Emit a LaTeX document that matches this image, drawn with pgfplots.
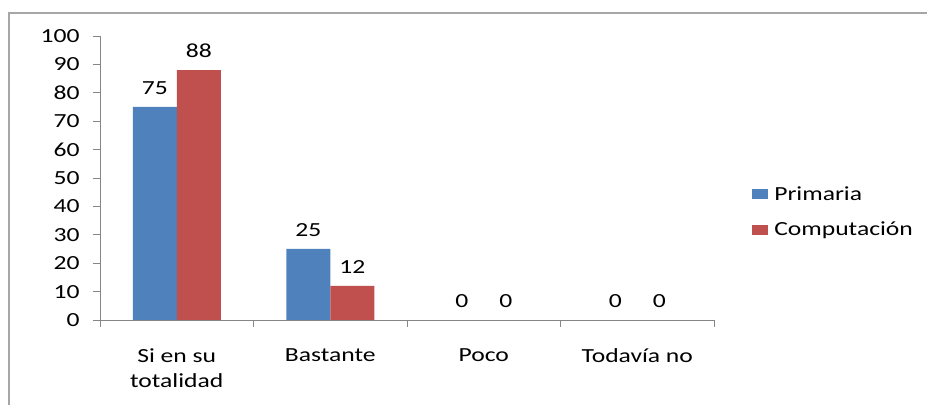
\documentclass[border=0pt]{standalone}
\usepackage{fontspec}
\setmainfont{Carlito}[FakeStretch=1.28]
\usepackage{pgfplots}
\pgfplotsset{compat=1.18}
\definecolor{pblue}{HTML}{4F81BD}
\definecolor{cred}{HTML}{C0504D}
\definecolor{axgray}{HTML}{868686}
\newcommand{\cf}{\fontsize{20bp}{25bp}\selectfont}
\begin{document}
\begin{tikzpicture}
\useasboundingbox (0,0) rectangle (927bp,405bp);
\draw[gray!70, line width=1.5bp] (9bp,-2bp) -- (9bp,392bp) -- (930bp,392bp);
\begin{axis}[
 at={(100bp,85bp)}, anchor=south west,
 scale only axis, width=614bp, height=284bp,
 ybar=0pt, bar width=44bp,
 xmin=-0.5, xmax=3.5, ymin=0, ymax=100,
 axis x line*=bottom, axis y line*=left,
 axis line style={axgray, line width=0.8bp, -},
 tick align=outside,
 major tick length=7bp,
 tick style={axgray, line width=0.8bp},
 ytick={0,10,...,100},
 xtick={0,1,2,3},
 x tick style={draw=none},
 xticklabels={{Si en su\\totalidad},Bastante,Poco,Todavía no},
 xticklabel style={align=center, font=\cf, yshift=-18bp},
 yticklabel style={font=\cf, xshift=-10bp},
 extra x ticks={-0.5,0.5,1.5,2.5,3.5},
 extra x tick labels={},
 extra x tick style={x tick style={draw=axgray}, major tick length=7bp},
 /pgf/number format/assume math mode=true,
 nodes near coords,
 nodes near coords style={font=\cf, anchor=south, yshift=9bp, black},
 legend style={at={(1.062,0.38)}, anchor=west, draw=none, fill=none, font=\cf, row sep=16bp, inner sep=0pt},
 legend cell align=left,
 legend image code/.code={\fill[#1] (0bp,-5bp) rectangle (16bp,5bp); \path (20bp,0bp);},
]
\addplot[fill=pblue, draw=none] coordinates {(0,75) (1,25) (2,0) (3,0)};
\addplot[fill=cred, draw=none] coordinates {(0,88) (1,12) (2,0) (3,0)};
\legend{Primaria,Computación}
\end{axis}
\end{tikzpicture}
\end{document}
